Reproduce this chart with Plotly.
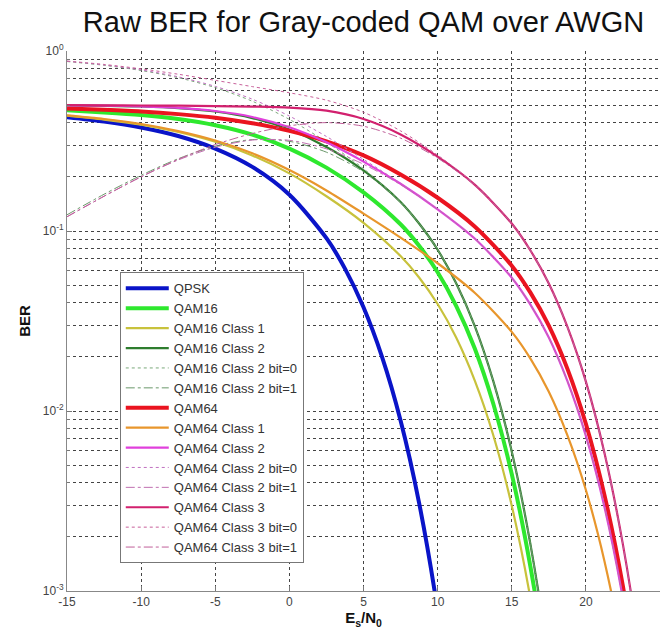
import plotly.graph_objects as go

# ---------------- data ----------------
X_QPSK = [-15, -12.5, -10, -7.5, -5, -2.5, 0, 2.5, 3.75, 5, 6.25, 7.5, 8.75, 10, 11.25]
BER_QPSK = [0.429, 0.406, 0.376, 0.337, 0.287, 0.227, 0.159, 0.0912, 0.0618, 0.0377,
            0.0200, 0.00886, 0.00309, 0.00078, 0.00013]

X_16 = [-15, -12.5, -10, -7.5, -5, -2.5, 0, 2.5, 5, 7.5, 8.75, 10, 11.25, 12.5,
        13.75, 15, 16.25, 17.5, 18.75]
BER_QAM16 = [0.468, 0.456, 0.441, 0.419, 0.387, 0.343, 0.287, 0.225, 0.164, 0.109,
             0.0828, 0.0590, 0.0384, 0.0223, 0.0110, 0.00447, 0.00138, 0.00030, 0.00004]
BER_QAM16_C1 = [0.437, 0.416, 0.390, 0.355, 0.313, 0.263, 0.209, 0.156, 0.111, 0.0726,
                0.0552, 0.0393, 0.0256, 0.0148, 0.00736, 0.00298, 0.00092, 0.00020, 0.000027]
BER_QAM16_C2 = [0.498, 0.496, 0.492, 0.482, 0.461, 0.424, 0.366, 0.293, 0.217, 0.145,
                0.110, 0.0787, 0.0512, 0.0297, 0.0147, 0.00596, 0.00184, 0.00040, 0.000054]
BER_QAM16_C2_B0 = [0.874, 0.833, 0.779, 0.711, 0.626, 0.526, 0.417, 0.312, 0.222, 0.145,
                   0.110, 0.0787, 0.0512, 0.0297, 0.0147, 0.00596, 0.00184, 0.00040, 0.000054]
BER_QAM16_C2_B1 = [0.123, 0.160, 0.204, 0.252, 0.296, 0.322, 0.315, 0.274, 0.213, 0.144,
                   0.110, 0.0787, 0.0512, 0.0297, 0.0147, 0.00596, 0.00184, 0.00040, 0.000054]

X_64 = [-15, -12.5, -10, -7.5, -5, -2.5, 0, 2.5, 5, 7.5, 10, 12.5, 15, 16.25, 17.5,
        18.75, 20, 21.25, 22.5, 23.75, 25]
BER_QAM64 = [0.479, 0.471, 0.461, 0.446, 0.426, 0.397, 0.360, 0.315, 0.263, 0.206, 0.153,
             0.106, 0.0642, 0.0456, 0.0298, 0.0172, 0.00849, 0.00342, 0.00106, 0.000227, 0.00003]
BER_QAM64_C1 = [0.439, 0.419, 0.393, 0.359, 0.318, 0.270, 0.218, 0.168, 0.125, 0.0919, 0.0662,
                0.0454, 0.0275, 0.0196, 0.0128, 0.00735, 0.00364, 0.00147, 0.000452, 0.000097, 0.000013]
BER_QAM64_C2 = [0.499, 0.497, 0.492, 0.483, 0.464, 0.430, 0.377, 0.311, 0.243, 0.183, 0.132,
                0.0908, 0.0550, 0.0391, 0.0256, 0.0147, 0.00728, 0.00294, 0.000905, 0.000195, 0.000026]
BER_QAM64_C2_B0 = [0.877, 0.837, 0.785, 0.719, 0.636, 0.540, 0.435, 0.335, 0.250, 0.184, 0.132,
                   0.0908, 0.0550, 0.0391, 0.0256, 0.0147, 0.00728, 0.00294, 0.000905, 0.000195, 0.000026]
BER_QAM64_C2_B1 = [0.120, 0.156, 0.200, 0.248, 0.292, 0.320, 0.319, 0.286, 0.235, 0.181, 0.132,
                   0.0908, 0.0550, 0.0391, 0.0256, 0.0147, 0.00728, 0.00294, 0.000905, 0.000195, 0.000026]
BER_QAM64_C3 = [0.500, 0.499, 0.498, 0.497, 0.494, 0.491, 0.485, 0.466, 0.419, 0.344, 0.259,
                0.181, 0.110, 0.0782, 0.0511, 0.0294, 0.01455, 0.00587, 0.00181, 0.000389, 0.000052]
BER_QAM64_C3_B0 = [0.879, 0.842, 0.796, 0.743, 0.687, 0.634, 0.586, 0.533, 0.457, 0.360, 0.264,
                   0.182, 0.110, 0.0782, 0.0511, 0.0294, 0.01455, 0.00587, 0.00181, 0.000389, 0.000052]
BER_QAM64_C3_B1 = [0.120, 0.156, 0.200, 0.250, 0.302, 0.348, 0.384, 0.400, 0.382, 0.328, 0.254,
                   0.180, 0.110, 0.0782, 0.0511, 0.0294, 0.01455, 0.00587, 0.00181, 0.000389, 0.000052]

X_TICKS = [-15, -10, -5, 0, 5, 10, 15, 20, 25]
X_TICK_TEXT = ["-15", "-10", "-5", "0", "5", "10", "15", "20", "25"]
Y_TICKS = [0.001, 0.01, 0.1, 1]
Y_TICK_TEXT = ["10<sup>-3</sup>", "10<sup>-2</sup>", "10<sup>-1</sup>", "10<sup>0</sup>"]
Y_MINOR = [m * d for d in (0.001, 0.01, 0.1) for m in range(2, 10)]

# ---------------- series styles ----------------
series = [
    ("QPSK", X_QPSK, BER_QPSK, "#0a14c8", 4, "solid"),
    ("QAM16", X_16, BER_QAM16, "#2ee82e", 4, "solid"),
    ("QAM16 Class 1", X_16, BER_QAM16_C1, "#c8c23c", 2.2, "solid"),
    ("QAM16 Class 2", X_16, BER_QAM16_C2, "#2e7d2e", 2.2, "solid"),
    ("QAM16 Class 2 bit=0", X_16, BER_QAM16_C2_B0, "#7aa87a", 1, "dot"),
    ("QAM16 Class 2 bit=1", X_16, BER_QAM16_C2_B1, "#6a986a", 1, "dashdot"),
    ("QAM64", X_64, BER_QAM64, "#ea1420", 4, "solid"),
    ("QAM64 Class 1", X_64, BER_QAM64_C1, "#e8962c", 2.2, "solid"),
    ("QAM64 Class 2", X_64, BER_QAM64_C2, "#e040dc", 2.2, "solid"),
    ("QAM64 Class 2 bit=0", X_64, BER_QAM64_C2_B0, "#c070c0", 1, "dot"),
    ("QAM64 Class 2 bit=1", X_64, BER_QAM64_C2_B1, "#c070b0", 1, "dashdot"),
    ("QAM64 Class 3", X_64, BER_QAM64_C3, "#d2206e", 2.2, "solid"),
    ("QAM64 Class 3 bit=0", X_64, BER_QAM64_C3_B0, "#c8609a", 1, "dot"),
    ("QAM64 Class 3 bit=1", X_64, BER_QAM64_C3_B1, "#c0609a", 1, "dashdot"),
]

fig = go.Figure()
for name, xs, ys, color, width, dash in series:
    fig.add_trace(go.Scatter(
        x=xs, y=ys, name=name, mode="lines",
        line=dict(color=color, width=width, dash=dash, shape="spline", smoothing=0.8),
    ))

FONT = "Liberation Sans, Arial, sans-serif"
GRID = dict(showgrid=True, gridcolor="#444", gridwidth=1, griddash="dot")

fig.update_layout(
    width=665, height=635,
    margin=dict(l=67, r=5, t=51, b=44),
    paper_bgcolor="white", plot_bgcolor="white",
    font=dict(family=FONT, color="#333"),
    title=dict(text="Raw BER for Gray-coded QAM over AWGN",
               font=dict(family=FONT, size=29, color="#111"),
               x=0.5, xref="paper", xanchor="center",
               y=0.966, yref="container", yanchor="middle"),
    showlegend=True,
    legend=dict(x=0.089, y=0.59, xanchor="left", yanchor="top",
                bgcolor="white", bordercolor="#777", borderwidth=1,
                font=dict(family=FONT, size=13, color="#333"),
                itemwidth=43, tracegroupgap=0),
)

fig.update_xaxes(
    range=[-15, 25], tickmode="array", tickvals=X_TICKS, ticktext=X_TICK_TEXT,
    ticks="inside", ticklen=5, tickcolor="#777",
    tickfont=dict(family=FONT, size=12, color="#444"),
    showline=True, linecolor="#888", linewidth=1, mirror=False,
    zeroline=False,
    title=dict(text="E<sub>s</sub>/N<sub>0</sub>",
               font=dict(family=FONT, size=15, color="#111", weight="bold"),
               standoff=4),
    **GRID,
)
fig.update_yaxes(
    type="log", range=[-3, 0], tickmode="array", tickvals=Y_TICKS, ticktext=Y_TICK_TEXT,
    ticks="inside", ticklen=5, tickcolor="#777",
    tickfont=dict(family=FONT, size=12, color="#444"),
    showline=True, linecolor="#888", linewidth=1, mirror=False,
    zeroline=False,
    minor=dict(tickmode="array", tickvals=Y_MINOR, showgrid=True,
               gridcolor="#444", gridwidth=1, griddash="dot",
               ticks="inside", ticklen=3, tickcolor="#777"),
    title=dict(text="BER", font=dict(family=FONT, size=15, color="#111", weight="bold"),
               standoff=8),
    **GRID,
)

fig.write_html("out.html")
